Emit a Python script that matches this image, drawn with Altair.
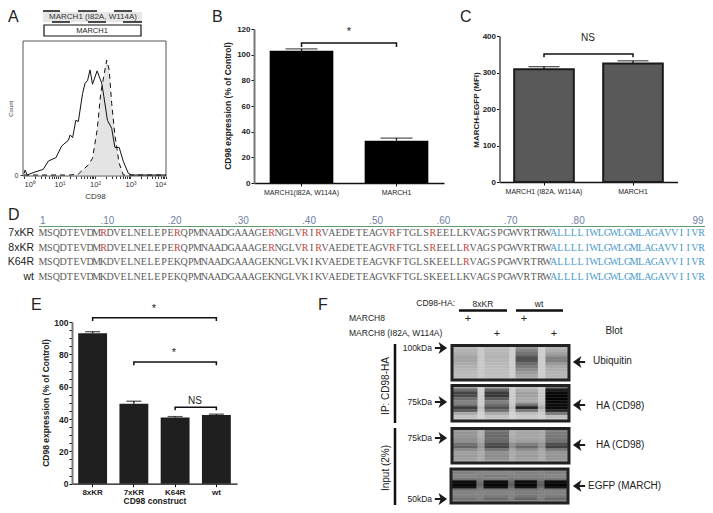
import altair as alt
import pandas as pd

W, H, M = 697, 497, 8
SANS = "Liberation Sans"
SERIF = "Liberation Serif"

# ---------- data ----------
hist_solid_exp = [0, 0.03, 0.09, 0.26, 0.54, 0.69, 0.90, 1.06, 1.25, 1.30, 1.37, 1.46, 1.53, 1.65, 1.72, 1.79, 1.86, 1.93, 2.06, 2.19, 2.25, 2.35, 2.47, 2.56, 2.68, 2.80, 2.94, 3.03, 3.5, 4]
hist_solid_cnt = [1, 3.7, 0, 1.8, 4.2, 10.5, 13, 21.7, 26, 30, 28, 41, 40, 61, 68.7, 70.7, 78.7, 68, 78, 68.7, 58.7, 41, 35, 20.7, 20.7, 10, 1.2, 0, 0, 0]
hist_dash_exp = [0, 1.3, 1.53, 1.81, 1.93, 2.06, 2.16, 2.26, 2.33, 2.40, 2.47, 2.56, 2.68, 2.80, 3.2, 4]
hist_dash_cnt = [0, 0, 0.7, 7.5, 12.5, 33.7, 61, 76, 86, 78.7, 53.7, 30, 8.8, 0, 0, 0]
flow_ticks = [1,2,3,4,5,6,7,8,9,10,20,30,40,50,60,70,80,90,100,200,300,400,500,600,700,800,900,1000,2000,3000,4000,5000,6000,7000,8000,9000,10000]

b_cats = ["MARCH1(I82A, W114A)", "MARCH1"]
b_vals = [103, 33]
b_errs = [104.5, 35]
c_cats = ["MARCH1 (I82A, W114A)", "MARCH1"]
c_vals = [309, 325]
c_errs = [316, 332]
e_cats = ["8xKR", "7xKR", "K64R", "wt"]
e_vals = [93, 49.5, 41, 42.5]
e_errs = [94, 51, 41.5, 43]

seq_names = ["7xKR", "8xKR", "K64R", "wt"]
seq_wt = "MSQDTEVDMKDVELNELEPEKQPMNAADGAAAGEKNGLVKIKVAEDETEAGVKFTGLSKEELLKVAGSPGWVRTRWALLLLIWLGWLGMLAGAVVIIVR"
seq_7 = "MSQDTEVDMRDVELNELEPERQPMNAADGAAAGERNGLVRIRVAEDETEAGVRFTGLSREELLKVAGSPGWVRTRWALLLLIWLGWLGMLAGAVVIIVR"
seq_8 = "MSQDTEVDMRDVELNELEPERQPMNAADGAAAGERNGLVRIRVAEDETEAGVRFTGLSREELLRVAGSPGWVRTRWALLLLIWLGWLGMLAGAVVIIVR"
seq_k = "MSQDTEVDMKDVELNELEPEKQPMNAADGAAAGEKNGLVKIKVAEDETEAGVKFTGLSKEELLRVAGSPGWVRTRWALLLLIWLGWLGMLAGAVVIIVR"
seq_rows = [seq_7, seq_8, seq_k, seq_wt]
tm_start = 77
ruler_pos = [1, 10, 20, 30, 40, 50, 60, 70, 80]
ruler_txt = ["1", ".10", ".20", ".30", ".40", ".50", ".60", ".70", ".80"]
ruler_end_pos = [99]
ruler_end_txt = ["99"]

lane_edges = [0, 22, 28, 49, 54.5, 73.5, 80, 100]
blot_ubiquitin = [
    [185,200,188,205,150,205,180],
    [180,200,185,205,135,205,175],
    [175,200,182,205,115,205,165],
    [170,200,180,205,100,205,150],
    [165,200,180,205,80,205,130],
    [165,200,182,205,85,205,130],
    [170,200,185,205,110,205,155],
    [178,200,188,205,125,205,170],
    [182,200,190,205,140,205,175],
    [185,200,190,205,155,205,180],
    [188,200,192,205,165,205,182],
    [190,200,192,205,170,205,185],
]
blot_ha_ip = [
    [170,210,175,210,195,210,120],
    [110,210,100,205,175,205,30],
    [70,205,60,205,160,200,10],
    [75,205,55,205,160,200,5],
    [110,205,90,205,170,200,5],
    [130,205,130,205,170,200,10],
    [120,205,110,200,120,190,15],
    [60,190,80,190,35,170,10],
    [90,200,110,200,120,190,40],
    [170,210,170,210,190,205,120],
    [195,212,195,212,205,210,190],
    [200,212,200,212,205,212,200],
]
blot_ha_input = [
    [155,175,120,175,165,170,130],
    [150,175,110,175,165,170,125],
    [150,175,105,175,165,170,120],
    [145,170,110,170,165,170,120],
    [145,170,105,170,160,165,115],
    [115,155,80,145,130,150,80],
    [100,150,70,140,105,145,65],
    [140,165,120,165,145,165,125],
    [160,170,145,170,160,170,150],
    [155,170,140,170,155,170,150],
    [160,172,145,172,160,172,150],
    [165,175,160,175,165,175,160],
]
blot_egfp = [
    [130,135,130,135,125,135,130],
    [130,135,135,135,130,135,130],
    [135,130,125,130,130,130,135],
    [125,125,130,120,125,125,125],
    [15,110,15,100,15,100,15],
    [5,100,5,90,5,90,5],
    [20,115,20,105,20,105,20],
    [120,125,125,125,120,125,125],
    [130,130,130,130,125,130,130],
    [130,130,125,130,120,130,125],
    [115,125,105,125,100,125,105],
    [130,130,125,130,125,130,125],
]

# ---------- helpers ----------
dummy = pd.DataFrame({"a": [0]})

def T(s, x, y, size=9, font=SANS, align="left", color="#222222", bold=False, angle=None):
    kw = dict(fontSize=size, font=font, align=align, baseline="middle", color=color,
              fontWeight="bold" if bold else "normal")
    if angle is not None:
        kw["angle"] = angle
    return alt.Chart(dummy).mark_text(**kw).encode(
        x=alt.value(x - M), y=alt.value(y - M), text=alt.value(s))

def HL(x1, x2, y, w=1.5, color="#111111"):
    return alt.Chart(dummy).mark_rule(strokeWidth=w, color=color).encode(
        x=alt.value(x1 - M), x2=alt.value(x2 - M), y=alt.value(y - M))

def VL_(x, y1, y2, w=1.5, color="#111111"):
    return alt.Chart(dummy).mark_rule(strokeWidth=w, color=color).encode(
        x=alt.value(x - M), y=alt.value(y1 - M), y2=alt.value(y2 - M))

def BOX(x1, x2, y1, y2, fill="transparent", stroke="transparent", w=1):
    return alt.Chart(dummy).mark_rect(fill=fill, stroke=stroke, strokeWidth=w).encode(
        x=alt.value(x1 - M), x2=alt.value(x2 - M), y=alt.value(y1 - M), y2=alt.value(y2 - M))

ARROW = "M1,0L-0.4,-1L-0.1,-0.15L-1,-0.15L-1,0.15L-0.1,0.15L-0.4,1Z"

def ARR(x, y, left=False):
    kw = dict(shape=ARROW, filled=True, color="#1a1a1a", size=150, opacity=1)
    if left:
        kw["angle"] = 180
    return alt.Chart(dummy).mark_point(**kw).encode(x=alt.value(x - M), y=alt.value(y - M))


def bar_panel(cats, vals, errs, xr, yr, ydom, ticks, xlab, ylab, bar_kw, pad, cap, brackets,
              xtitle=None, y_label_expr=None, x_bold=False, x_size=7, y_size=8):
    base = pd.DataFrame({"cat": cats, "v": vals, "err": errs})
    xaxis = alt.Axis(orient="bottom", offset=xlab - M - H, title=xtitle, labelFont=SANS,
                     labelFontSize=x_size, labelFontWeight="bold" if x_bold else "normal",
                     labelColor="#222222", labelAngle=0, labelPadding=2, tickSize=3, tickColor="#111111",
                     domainColor="#111111", domainWidth=1.3, grid=False, labelLimit=200,
                     titleFont=SANS, titleFontSize=8.5, titleFontWeight="bold", titleColor="#222222", titlePadding=0)
    yargs = dict(orient="left", offset=-(ylab - M), title=None, values=ticks, labelFont=SANS,
                 labelFontSize=y_size, labelFontWeight="bold", labelColor="#222222", tickSize=3,
                 tickColor="#111111", domainColor="#777777", domainWidth=2, grid=False, labelPadding=1)
    if y_label_expr:
        yargs["labelExpr"] = y_label_expr
    yaxis = alt.Axis(**yargs)
    xs = alt.Scale(type="band", domain=cats, range=[xr[0] - M, xr[1] - M], paddingInner=pad, paddingOuter=pad / 2)
    ys = alt.Scale(domain=ydom, range=[yr[0] - M, yr[1] - M], nice=False, zero=True)
    X = alt.X("cat:N", scale=xs, axis=xaxis, sort=cats)
    Y = alt.Y("v:Q", scale=ys, axis=yaxis)
    layers = [
        alt.Chart(base).mark_rule(color="#111111", strokeWidth=1.3).encode(x=X, y=Y, y2="err:Q"),
        alt.Chart(base).mark_tick(color="#111111", size=cap, thickness=1.3).encode(x=X, y=alt.Y("err:Q", scale=ys, axis=yaxis)),
        alt.Chart(base).mark_bar(**bar_kw).encode(x=X, y=Y),
    ]
    for a, b, top, foot in brackets:
        d = pd.DataFrame({"cat": [a, a, b, b], "v": [foot, top, top, foot], "o": [0, 1, 2, 3]})
        layers.append(alt.Chart(d).mark_line(color="#111111", strokeWidth=1.5).encode(x=X, y=Y, order="o:Q"))
    return alt.layer(*layers)


def blot(matrix, x1, x2, y1, y2):
    rows = []
    n = len(matrix)
    for r, row in enumerate(matrix):
        for c, g in enumerate(row):
            rows.append({"x0": lane_edges[c], "x1": lane_edges[c + 1], "y0": r, "y1": r + 1,
                         "g": "#%02x%02x%02x" % (g, g, g)})
    xs = alt.Scale(domain=[0, 100], range=[x1 - M, x2 - M], nice=False, zero=False)
    ys = alt.Scale(domain=[0, n], range=[y1 - M, y2 - M], nice=False, zero=False)
    cells = alt.Chart(pd.DataFrame(rows)).mark_rect(strokeWidth=0.4).encode(
        x=alt.X("x0:Q", scale=xs, axis=None), x2="x1:Q",
        y=alt.Y("y0:Q", scale=ys, axis=None), y2="y1:Q",
        color=alt.Color("g:N", scale=None), stroke=alt.Stroke("g:N", scale=None))
    frame_d = pd.DataFrame({"x0": [0], "x1": [100], "y0": [0], "y1": [n]})
    frame = alt.Chart(frame_d).mark_rect(fill="transparent", stroke="#222222", strokeWidth=3).encode(
        x=alt.X("x0:Q", scale=xs, axis=None), x2="x1:Q",
        y=alt.Y("y0:Q", scale=ys, axis=None), y2="y1:Q")
    return alt.layer(cells, frame)

# ---------- panel A ----------
sol = pd.DataFrame({"e": [10 ** v for v in hist_solid_exp], "c": hist_solid_cnt})
das = pd.DataFrame({"e": [10 ** v for v in hist_dash_exp], "c": hist_dash_cnt})
ax = alt.Scale(type="log", domain=[1, 10000], range=[24 - M, 166 - M], nice=False)
ay = alt.Scale(domain=[0, 100], range=[175 - M, 41.5 - M], nice=False)
AX = alt.X("e:Q", scale=ax, axis=alt.Axis(
    orient="bottom", offset=176 - M - H, values=flow_ticks, title="CD98", grid=False,
    labelExpr="datum.value==1?'10⁰':datum.value==10?'10¹':datum.value==100?'10²':datum.value==1000?'10³':datum.value==10000?'10⁴':''",
    labelFont=SANS, labelFontSize=7.5, labelColor="#333333", labelOverlap=False, labelPadding=2, tickSize=2.5, tickColor="#333333",
    domain=False, titleFont=SANS, titleFontSize=8, titleFontWeight="normal", titleColor="#333333", titlePadding=4))
AY = alt.Y("c:Q", scale=ay, axis=alt.Axis(
    orient="left", offset=-(23 - M), values=[0], title="Count", grid=False, domain=False,
    labelFont=SANS, labelFontSize=7, labelColor="#333333", tickSize=3, tickColor="#333333",
    titleFont=SANS, titleFontSize=6, titleFontWeight="normal", titleColor="#333333", titlePadding=1))
panel_a = alt.layer(
    alt.Chart(das).mark_area(color="#e4e4e4").encode(x=AX, y=AY),
    alt.Chart(das).mark_line(color="#111111", strokeWidth=1, strokeDash=[5, 4]).encode(x=AX, y=AY),
    alt.Chart(sol).mark_line(color="#111111", strokeWidth=1).encode(x=AX, y=AY),
)
a_bits = [
    BOX(23, 166, 41, 176, stroke="#555555", w=1),
    BOX(43, 142, 12, 22, fill="#e6e6e6"),
    T("MARCH1 (I82A, W114A)", 93, 17, 8, align="center", color="#333333"),
    BOX(44, 141, 25, 36, fill="white", stroke="#111111", w=1.2),
    T("MARCH1", 92, 30.5, 7.5, align="center", color="#222222"),
    HL(43, 60, 11), HL(78, 97, 11), HL(114, 132, 11),
    HL(52, 70, 22), HL(88, 106, 22), HL(123, 142, 22),
]

# ---------- panel B, C, E ----------
panel_b = bar_panel(b_cats, b_vals, b_errs, (254, 444), (183, 29), [0, 120], [0, 20, 40, 60, 80, 100, 120],
                    183, 254, dict(color="#000000"), 0.33, 32, [(b_cats[0], b_cats[1], 109, 106)])
panel_c = bar_panel(c_cats, c_vals, c_errs, (499.5, 677.5), (182, 36), [0, 400], [0, 100, 200, 300, 400],
                    182, 499.5, dict(color="#595959", stroke="#1a1a1a", strokeWidth=2), 0.33, 31,
                    [(c_cats[0], c_cats[1], 351, 342)])
panel_e = bar_panel(e_cats, e_vals, e_errs, (72, 237), (483.7, 322), [0, 100], list(range(0, 101, 5)),
                    483.7, 72, dict(color="#1f1f1f"), 0.3, 15,
                    [(e_cats[0], e_cats[3], 102.6, 100.6), (e_cats[1], e_cats[3], 75.3, 73.2), (e_cats[2], e_cats[3], 47.3, 45.5)],
                    xtitle="CD98 construct", y_label_expr="datum.value%20==0?datum.label:''", x_bold=True, x_size=8, y_size=8.5)
bce_text = [
    T("*", 349, 32, 11, align="center"),
    T("NS", 588, 38, 10, align="center"),
    T("*", 154, 309, 11, align="center"),
    T("*", 174, 353, 11, align="center"),
    T("NS", 195, 400.5, 10, align="center"),
    T("CD98 expression (% of Control)", 228, 106, 8.5, align="center", bold=True, angle=270),
    T("MARCH-EGFP (MFI)", 477, 110, 8, align="center", bold=True, angle=270),
    T("CD98 expression (% of Control)", 46, 403, 8.5, align="center", bold=True, angle=270),
]

# ---------- panel D ----------
rows = []
for name, s in zip(seq_names, seq_rows):
    for i, (ch, w) in enumerate(zip(s, seq_wt)):
        pos = i + 1
        col = "#c8433c" if ch != w else ("#4a9bcb" if pos >= tm_start else "#5a5a5a")
        rows.append({"pos": pos, "row": name, "ch": ch, "col": col})
seq_df = pd.DataFrame(rows)
dx = alt.Scale(domain=[1, 99], range=[43 - M, 701.5 - M], nice=False, zero=False)
dy = alt.Scale(type="point", domain=seq_names, range=[233 - M, 277 - M], padding=0)
panel_d_seq = alt.Chart(seq_df).mark_text(font=SERIF, fontSize=10, baseline="middle").encode(
    x=alt.X("pos:Q", scale=dx, axis=None), y=alt.Y("row:N", scale=dy, axis=None),
    text="ch:N", color=alt.Color("col:N", scale=None))
panel_d_ruler = alt.Chart(pd.DataFrame({"pos": ruler_pos, "t": ruler_txt})).mark_text(
    font=SANS, fontSize=10, color="#6f7fa5", baseline="middle", align="left", dx=-3).encode(
    x=alt.X("pos:Q", scale=dx, axis=None), y=alt.value(221 - M), text="t:N")
panel_d_end = alt.Chart(pd.DataFrame({"pos": ruler_end_pos, "t": ruler_end_txt})).mark_text(
    font=SANS, fontSize=10, color="#6f7fa5", baseline="middle", align="right", dx=2).encode(
    x=alt.X("pos:Q", scale=dx, axis=None), y=alt.value(221 - M), text="t:N")
panel_d = alt.layer(panel_d_seq, panel_d_ruler, panel_d_end)
d_bits = [HL(39, 705, 226.5, 1, "#5d9a6c")] + [
    T(n, 34, y, 10.5, align="right", color="#222222")
    for n, y in zip(seq_names, [233, 248, 262, 277])
]

# ---------- panel F ----------
f_bits = [
    T("CD98-HA:", 455, 303, 8.5, align="right"),
    T("8xKR", 483, 304, 8.5, align="center"),
    T("wt", 539, 304, 8.5, align="center"),
    HL(459, 507, 310.5, 2.5), HL(516, 563, 310.5, 2.5),
    T("MARCH8", 349, 318, 8.5),
    T("MARCH8 (I82A, W114A)", 349, 333, 8.5),
    T("+", 468, 319, 11, align="center"), T("+", 497, 334, 11, align="center"),
    T("+", 524, 319, 11, align="center"), T("+", 554, 334, 11, align="center"),
    T("Blot", 614, 331, 10, align="center"),
    T("IP: CD98-HA", 386, 386, 10, align="center", angle=270),
    T("Input (2%)", 386, 468, 10, align="center", angle=270),
    VL_(395, 344, 423, 2.5), VL_(395, 428, 505, 2.5),
    T("100kDa", 432, 348, 8.5, align="right"), T("75kDa", 432, 402, 8.5, align="right"),
    T("75kDa", 432, 438, 8.5, align="right"), T("50kDa", 432, 499, 8.5, align="right"),
    ARR(441, 348), ARR(441, 402), ARR(441, 438), ARR(441, 499),
    ARR(579, 362, True), ARR(579, 405, True), ARR(579, 445, True), ARR(579, 486, True),
    T("Ubiquitin", 593, 361, 10), T("HA (CD98)", 596, 406, 10), T("HA (CD98)", 596, 445, 10),
    T("EGFP (MARCH)", 588, 486, 10),
]
blots = [
    blot(blot_ubiquitin, 452, 569, 345.5, 380),
    blot(blot_ha_ip, 452, 569, 385.5, 421),
    blot(blot_ha_input, 452, 569, 428.5, 463),
    blot(blot_egfp, 451, 568, 469, 503),
]

letters = [T("A", 8, 17, 16), T("B", 212, 17, 16), T("C", 460, 17, 16),
           T("D", 8, 215, 16), T("E", 31, 305, 16), T("F", 318, 305, 16)]

chart = alt.layer(
    *a_bits, panel_a, panel_b, panel_c, panel_e, *bce_text, panel_d, *d_bits, *blots, *f_bits, *letters
).resolve_scale(x="independent", y="independent").properties(
    width=W, height=H, padding=0, autosize=alt.AutoSizeParams(type="none")
).configure_view(stroke=None)

chart.save("out.html", embed_options={"renderer": "svg", "actions": False})
